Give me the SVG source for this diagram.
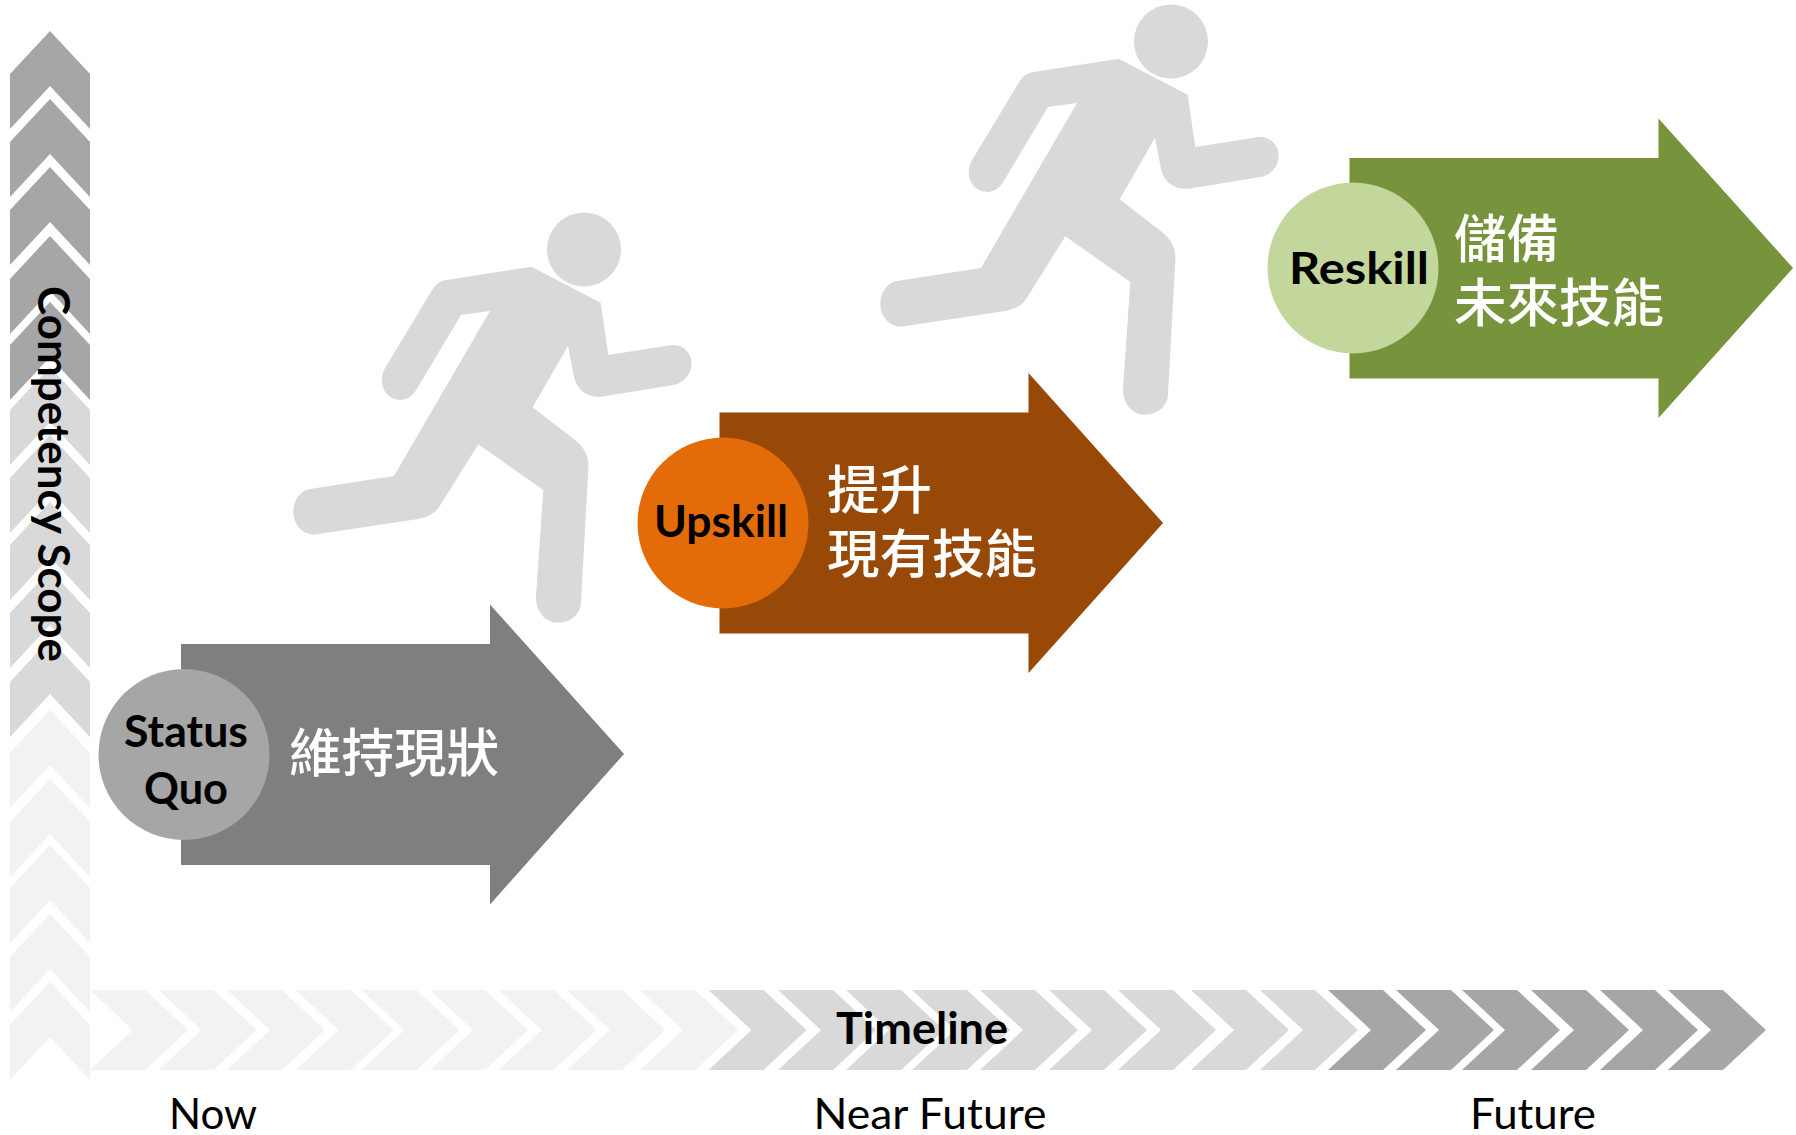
<svg xmlns="http://www.w3.org/2000/svg" width="1796" height="1135" viewBox="0 0 1796 1135">
<style>
.l{fill:#f2f2f2}.m{fill:#d9d9d9}.d{fill:#a6a6a6}
text{font-family:"Lato","Open Sans",sans-serif;fill:#000}
.b{font-weight:700;font-size:43px;text-anchor:middle}
.t{font-size:42px;text-anchor:middle}
.c{font-family:"Noto Sans CJK TC","Noto Sans CJK SC",sans-serif;fill:#fff;font-size:52.5px;font-weight:500}
</style>
<defs>
<path id="hc" d="M0-40H55L98 0 55 40H0L43 0Z"/>
<path id="vc" d="M0 0L40 43V98L0 55-40 98V43Z"/>
<g id="runner" fill="#d9d9d9">
<circle cx="584" cy="249.5" r="37"/>
<path transform="translate(280 200) scale(.3333)" d="M755 200L962 308 985 465 1175 435C1210 432 1235 460 1235 490 1235 525 1210 550 1180 555L965 590C925 595 890 570 882 530L864 438 758 622 885 720C915 745 927 770 925 805L903 1210C900 1245 870 1268 835 1268 795 1268 768 1235 768 1190L790 870 595 733 478 920C460 945 440 952 410 958L110 1003C70 1008 40 975 40 935 40 900 60 873 90 867L342 828 630 333 543 345 410 568C395 592 380 600 360 600 325 598 305 570 305 540 305 525 310 515 315 505L458 268C470 250 482 242 500 240Z"/>
</g>
</defs>
<g id="vertical-axis">
<use href="#vc" x="50" y="31" class="d"/><use href="#vc" x="50" y="99" class="d"/><use href="#vc" x="50" y="167" class="d"/><use href="#vc" x="50" y="236" class="d"/><use href="#vc" x="50" y="302" class="d"/>
<use href="#vc" x="50" y="367" class="m"/><use href="#vc" x="50" y="435" class="m"/><use href="#vc" x="50" y="502" class="m"/><use href="#vc" x="50" y="570" class="m"/><use href="#vc" x="50" y="639" class="m"/>
<use href="#vc" x="50" y="710" class="l"/><use href="#vc" x="50" y="779" class="l"/><use href="#vc" x="50" y="845" class="l"/><use href="#vc" x="50" y="914" class="l"/><use href="#vc" x="50" y="982" class="l"/>
<text class="b" transform="translate(38 474) rotate(90)" textLength="376" lengthAdjust="spacingAndGlyphs">Competency Scope</text>
</g>
<g id="timeline">
<use href="#hc" x="90" y="1030" class="l"/><use href="#hc" x="158.6" y="1030" class="l"/><use href="#hc" x="227" y="1030" class="l"/><use href="#hc" x="295.700" y="1030" class="l"/><use href="#hc" x="361.400" y="1030" class="l"/><use href="#hc" x="430" y="1030" class="l"/><use href="#hc" x="498.600" y="1030" class="l"/><use href="#hc" x="567" y="1030" class="l"/><use href="#hc" x="640" y="1030" class="l"/>
<use href="#hc" x="708.5" y="1030" class="m"/><use href="#hc" x="778" y="1030" class="m"/><use href="#hc" x="846" y="1030" class="m"/><use href="#hc" x="912" y="1030" class="m"/><use href="#hc" x="980" y="1030" class="m"/><use href="#hc" x="1049" y="1030" class="m"/><use href="#hc" x="1118" y="1030" class="m"/><use href="#hc" x="1191" y="1030" class="m"/><use href="#hc" x="1260" y="1030" class="m"/>
<use href="#hc" x="1328" y="1030" class="d"/><use href="#hc" x="1396" y="1030" class="d"/><use href="#hc" x="1462" y="1030" class="d"/><use href="#hc" x="1531" y="1030" class="d"/><use href="#hc" x="1600" y="1030" class="d"/><use href="#hc" x="1668" y="1030" class="d"/>
<text class="b" x="922" y="1044" textLength="172" lengthAdjust="spacingAndGlyphs">Timeline</text>
<text class="t" x="213" y="1129" textLength="88" lengthAdjust="spacingAndGlyphs">Now</text>
<text class="t" x="930" y="1129" textLength="233" lengthAdjust="spacingAndGlyphs">Near Future</text>
<text class="t" x="1533" y="1129" textLength="126" lengthAdjust="spacingAndGlyphs">Future</text>
</g>
<g id="runner-1"><use href="#runner"/></g>
<g id="runner-2"><use href="#runner" x="587" y="-208"/></g>
<g id="status-quo">
<path fill="#7f7f7f" d="M181 644H490V604.500L624 754 490 904.500V865H181Z"/>
<circle cx="184" cy="754.500" r="85.500" fill="#a6a6a6"/>
<text class="b" x="186" y="747" textLength="124" lengthAdjust="spacingAndGlyphs">Status</text>
<text class="b" x="186" y="804" textLength="84" lengthAdjust="spacingAndGlyphs">Quo</text>
<text class="c" x="289" y="772">維持現狀</text>
</g>
<g id="upskill">
<path fill="#984807" d="M719.500 412.500H1028.500V373L1163 523 1028.500 673V633.500H719.500Z"/>
<circle cx="723" cy="523" r="85.500" fill="#e36c09"/>
<text class="b" x="721" y="537" textLength="134" lengthAdjust="spacingAndGlyphs">Upskill</text>
<text class="c" x="827" y="509">提升</text>
<text class="c" x="827" y="573">現有技能</text>
</g>
<g id="reskill">
<path fill="#77933c" d="M1349.500 158H1658.500V118.500L1793 268 1658.500 418V378.500H1349.500Z"/>
<circle cx="1353" cy="268" r="85.500" fill="#c3d69b"/>
<text class="b" x="1359" y="284" textLength="140" lengthAdjust="spacingAndGlyphs">Reskill</text>
<text class="c" x="1454" y="258">儲備</text>
<text class="c" x="1454" y="322">未來技能</text>
</g>
</svg>
